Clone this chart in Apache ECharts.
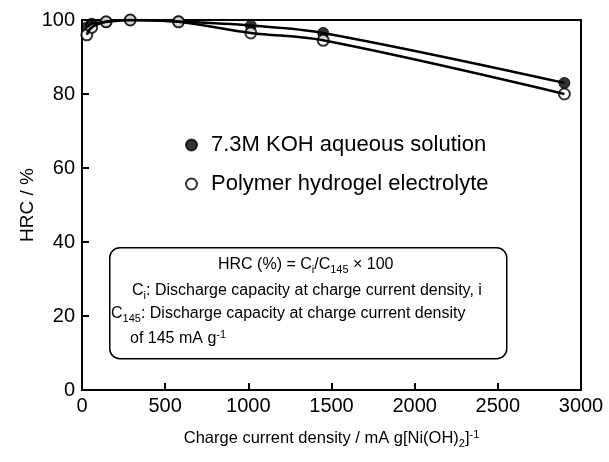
<!DOCTYPE html>
<html>
<head>
<meta charset="utf-8">
<script src="https://cdn.jsdelivr.net/npm/echarts@6/dist/echarts.min.js"></script>
<style>
  html, body { margin: 0; padding: 0; background: #fff; }
  #main { width: 609px; height: 462px; }
</style>
</head>
<body>
<div id="main"></div>
<script>
// charge current density, mA g[Ni(OH)2]-1
var currentDensity = [29, 58, 145, 290, 580, 1015, 1450, 2900];
// HRC (%) for each electrolyte
var hrcKOH = [98, 99, 99.5, 100, 99.6, 98.5, 96.5, 83];
var hrcGel = [96, 98, 99.5, 100, 99.5, 96.5, 94.5, 80];

var xTicks = [0, 500, 1000, 1500, 2000, 2500, 3000];
var yTicks = [0, 20, 40, 60, 80, 100];

var FONT = 'Liberation Sans, Arial, sans-serif';

function pairs(xs, ys) {
    return xs.map(function (x, i) { return [x, ys[i]]; });
}

var myChart = echarts.init(document.getElementById('main'));

var boxRich = {
    t: { fontSize: 16, fontFamily: FONT, fill: '#000' },
    s: { fontSize: 11, fontFamily: FONT, fill: '#000', padding: [9, 0, 0, 0] },
    p: { fontSize: 11, fontFamily: FONT, fill: '#000', padding: [0, 0, 8, 0] }
};

var option = {
    animation: false,
    backgroundColor: '#fff',
    textStyle: { fontFamily: FONT, color: '#000' },
    grid: {
        left: 82, right: 28, top: 20, bottom: 72,
        show: true, borderColor: '#000', borderWidth: 2
    },
    legend: {
        orient: 'vertical',
        left: 180, top: 129,
        itemGap: 17,
        itemWidth: 11, itemHeight: 11,
        icon: 'circle',
        textStyle: { fontSize: 22, fontFamily: FONT, color: '#000', padding: [0, 0, 0, 9] },
        data: ['7.3M KOH aqueous solution', 'Polymer hydrogel electrolyte']
    },
    xAxis: {
        type: 'value',
        min: xTicks[0], max: xTicks[xTicks.length - 1], interval: 500,
        splitLine: { show: false },
        axisLine: { lineStyle: { color: '#000', width: 2 } },
        axisTick: { inside: true, length: 7, lineStyle: { color: '#000', width: 2 } },
        axisLabel: {
            fontSize: 20, color: '#000', fontFamily: FONT, margin: 6,
            formatter: function (v) { return String(v); }
        },
        name: '{t|Charge current density / mA g[Ni(OH)}{sub|2}{t|]}{sup|-1}',
        nameLocation: 'middle',
        nameGap: 38,
        nameMoveOverlap: false,
        nameTextStyle: {
            rich: {
                t: { fontSize: 16.5, fontFamily: FONT, color: '#000' },
                sub: { fontSize: 11, fontFamily: FONT, color: '#000', padding: [10, 0, 0, 0] },
                sup: { fontSize: 11, fontFamily: FONT, color: '#000', padding: [0, 0, 8, 0] }
            }
        }
    },
    yAxis: {
        type: 'value',
        min: yTicks[0], max: yTicks[yTicks.length - 1], interval: 20,
        splitLine: { show: false },
        axisLine: { lineStyle: { color: '#000', width: 2 } },
        axisTick: { inside: true, length: 7, lineStyle: { color: '#000', width: 2 } },
        axisLabel: { fontSize: 20, color: '#000', fontFamily: FONT, margin: 7 },
        name: 'HRC / %',
        nameLocation: 'middle',
        nameGap: 45,
        nameMoveOverlap: false,
        nameTextStyle: { fontSize: 19, fontFamily: FONT, color: '#000' }
    },
    series: [
        {
            name: 'koh-curve', type: 'line', smooth: 0.35, symbol: 'none',
            lineStyle: { color: '#000', width: 2.5 },
            data: pairs(currentDensity, hrcKOH)
        },
        {
            name: 'gel-curve', type: 'line', smooth: 0.35, symbol: 'none',
            lineStyle: { color: '#000', width: 2.5 },
            data: pairs(currentDensity, hrcGel)
        },
        {
            name: '7.3M KOH aqueous solution', type: 'scatter', symbol: 'circle', symbolSize: 11,
            itemStyle: { color: '#000', borderColor: '#000', borderWidth: 1 },
            data: pairs(currentDensity, hrcKOH)
        },
        {
            name: 'Polymer hydrogel electrolyte', type: 'scatter', symbol: 'circle', symbolSize: 11,
            itemStyle: { color: '#fff', borderColor: '#000', borderWidth: 2 },
            data: pairs(currentDensity, hrcGel)
        }
    ],
    graphic: [
        {
            type: 'rect', left: 109, top: 247,
            shape: { width: 397, height: 111, r: 10 },
            style: { fill: '#fff', stroke: '#000', lineWidth: 1.5 }
        },
        {
            type: 'text', left: 218, top: 257,
            style: { text: '{t|HRC (%) = C}{s|i}{t|/C}{s|145}{t| \u00d7 100}', rich: boxRich }
        },
        {
            type: 'text', left: 132, top: 283,
            style: { text: '{t|C}{s|i}{t|: Discharge capacity at charge current density, i}', rich: boxRich }
        },
        {
            type: 'text', left: 111, top: 306,
            style: { text: '{t|C}{s|145}{t|: Discharge capacity at charge current density}', rich: boxRich }
        },
        {
            type: 'text', left: 130, top: 329,
            style: { text: '{t|of 145 mA g}{p|-1}', rich: boxRich }
        }
    ]
};

myChart.setOption(option);
</script>
</body>
</html>
